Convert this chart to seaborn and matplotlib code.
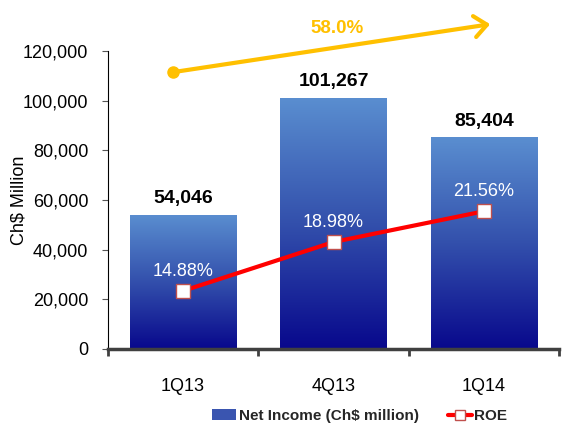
import numpy as np
import pandas as pd
import matplotlib
matplotlib.use("Agg")
import matplotlib.pyplot as plt
import seaborn as sns
from matplotlib.colors import LinearSegmentedColormap
from matplotlib.lines import Line2D
from matplotlib.patches import Patch
from matplotlib.ticker import FuncFormatter, FixedLocator

# Data
quarters = ["1Q13", "4Q13", "1Q14"]
net_income = [54046, 101267, 85404]   # Ch$ million
roe = [14.88, 18.98, 21.56]           # %
growth_label = "58.0%"
y_ticks = [0, 20000, 40000, 60000, 80000, 100000, 120000]

sns.set_theme(style="white")
plt.rcParams["font.family"] = ["Liberation Sans", "DejaVu Sans"]
GOLD = "#FFC000"

fig = plt.figure(figsize=(5.62, 4.23), dpi=100)
ax = fig.add_axes([0.192, 0.175, 0.803, 0.704])

df = pd.DataFrame({"quarter": quarters, "net_income": net_income})
sns.barplot(data=df, x="quarter", y="net_income", ax=ax, width=0.71,
            color="#3A55B0", saturation=1, zorder=2)

# vertical gradient fill clipped to each bar
cmap = LinearSegmentedColormap.from_list("navy", ["#08088C", "#3350AC", "#5A8ED0"])
grad = np.linspace(0, 1, 256).reshape(-1, 1)
for bar in list(ax.patches):
    x0, w, h = bar.get_x(), bar.get_width(), bar.get_height()
    im = ax.imshow(grad, cmap=cmap, origin="lower", aspect="auto",
                   extent=(x0, x0 + w, 0, h), zorder=2.5)
    im.set_clip_path(bar)
    bar.set_edgecolor("none")

ax.set_xlim(-0.5, 2.5)
ax.set_ylim(0, 120000)

# value labels above bars
for i, v in enumerate(net_income):
    ax.annotate(f"{v:,}", (i, v), xytext=(0, 11.5), textcoords="offset points",
                ha="center", va="center", fontsize=14, fontweight="bold",
                color="black", zorder=5)

# growth arrow across the top
ax.annotate("", xy=(2.041, 130870), xytext=(-0.068, 111540),
            arrowprops=dict(arrowstyle="->,head_length=0.45,head_width=0.38",
                            color=GOLD, lw=3, shrinkA=0, shrinkB=0,
                            mutation_scale=20),
            annotation_clip=False, zorder=6)
ax.plot([-0.068], [111540], "o", color=GOLD, markersize=8, clip_on=False, zorder=6)
ax.text(1.023, 129260, growth_label, ha="center", va="center", fontsize=13.5,
        fontweight="bold", color=GOLD, clip_on=False)

# axes styling
for s in ["top", "right"]:
    ax.spines[s].set_visible(False)
ax.spines["left"].set_color("black")
ax.spines["left"].set_linewidth(0.8)
ax.spines["bottom"].set_color("#404040")
ax.spines["bottom"].set_linewidth(2.5)

ax.yaxis.set_major_locator(FixedLocator(y_ticks))
ax.yaxis.set_major_formatter(FuncFormatter(lambda v, p: f"{v:,.0f}"))
ax.tick_params(axis="y", left=True, length=4, width=0.8, color="#555555",
               pad=10, labelsize=13, labelcolor="black")
ax.xaxis.set_minor_locator(FixedLocator([-0.5, 0.5, 1.5, 2.5]))
ax.tick_params(axis="x", which="major", bottom=True, length=0, pad=21,
               labelsize=13, labelcolor="black")
ax.tick_params(axis="x", which="minor", bottom=True, length=5, width=2,
               color="#404040", direction="out")
ax.set_xlabel("")
ax.set_ylabel(r"Ch\$ Million", fontsize=13, color="black")
ax.yaxis.set_label_coords(-0.178, 0.5)

# ROE on a hidden secondary axis
ax2 = ax.twinx()
sns.lineplot(x=[0, 1, 2], y=roe, ax=ax2, color="#FF0000", lw=3, marker="s",
             markersize=9.5, markerfacecolor="white", markeredgecolor="#C0504D",
             markeredgewidth=1, zorder=4)
ax2.set_ylim(10, 35)
ax2.set_xlim(-0.5, 2.5)
ax2.axis("off")
for i, r in enumerate(roe):
    ax2.annotate(f"{r:.2f}%", (i, r), xytext=(0, 14), textcoords="offset points",
                 ha="center", va="center", fontsize=13,
                 color="white", zorder=5)

# legend
handles = [
    Patch(facecolor="#3A55B0", edgecolor="none", label=r"Net Income (Ch\$ million)"),
    Line2D([0], [0], color="#FF0000", lw=3, marker="s", markersize=7,
           markerfacecolor="white", markeredgecolor="#C0504D",
           markeredgewidth=1, label="ROE"),
]
fig.legend(handles=handles, loc="center", bbox_to_anchor=(0.64, 0.0165), ncol=2,
           frameon=False, handlelength=1.6, handletextpad=0.15, columnspacing=1.9,
           borderpad=0, prop=dict(weight="bold", size=11))

fig.savefig("out.png", dpi=100)
